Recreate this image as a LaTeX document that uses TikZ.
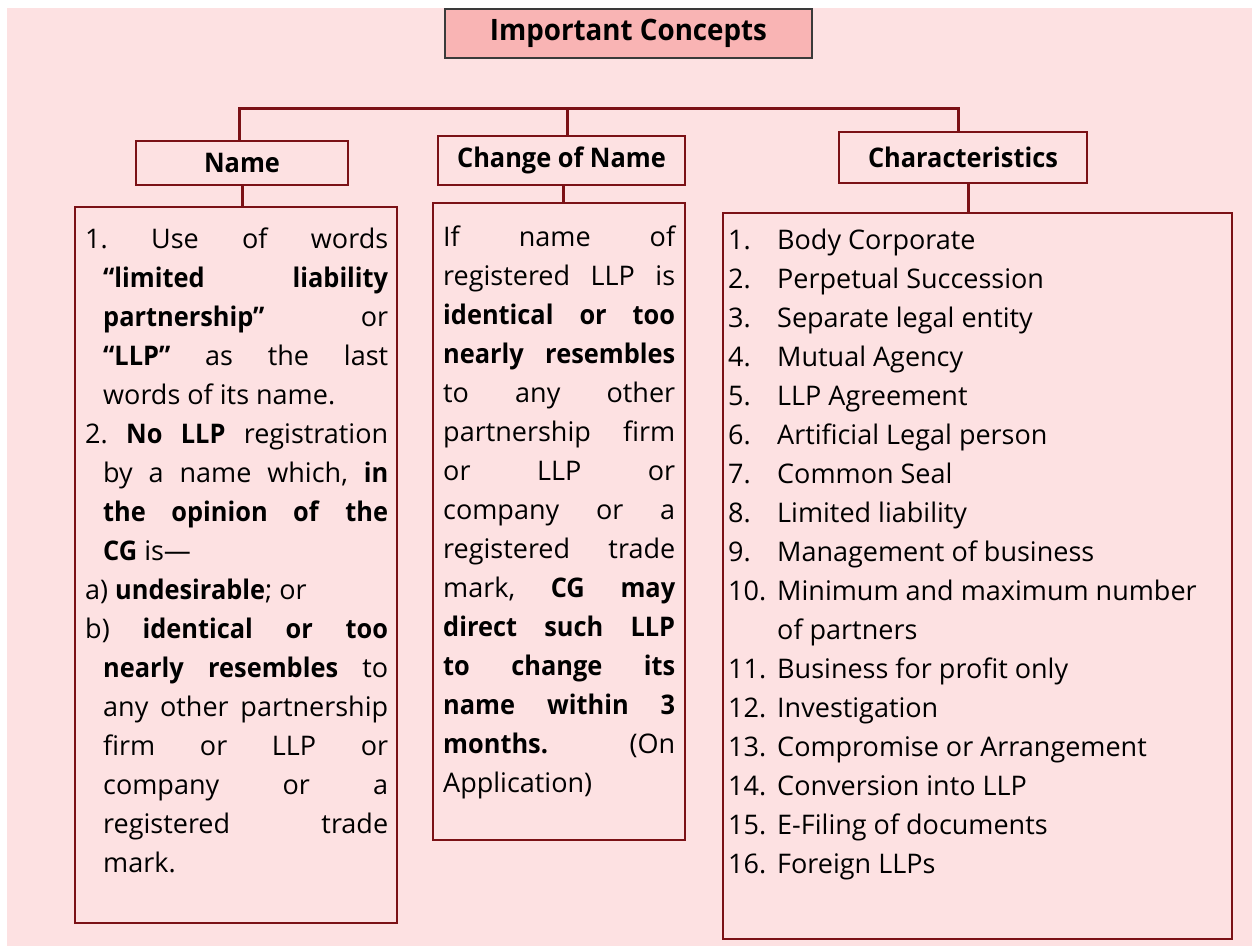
\documentclass[tikz,border=0pt]{standalone}
\usepackage{fontspec}
\setmainfont[BoldFeatures={FakeStretch=0.94}]{Open Sans}
\definecolor{bgpink}{HTML}{FDE1E2}
\definecolor{titlepink}{HTML}{F9B4B4}
\definecolor{linered}{HTML}{7B1116}
\definecolor{titleedge}{HTML}{3A3A3A}
\newcommand{\gp}{\hfill}
\newcommand{\FL}[1]{\hbox to \fullw{#1}}
\newcommand{\HL}[1]{\moveright\hang\hbox to \hangw{#1}}
\newlength{\fullw}\newlength{\hangw}\newlength{\hang}
\tikzset{
  conn/.style={draw=linered, line width=3pt},
  headbox/.style={draw=linered, line width=2.5pt, rectangle, inner sep=0pt,
    font=\fontsize{27}{30}\selectfont\bfseries},
  bodybox/.style={draw=linered, line width=2.5pt, rectangle, inner sep=0pt},
  txt/.style={anchor=base west, inner sep=0pt, font=\fontsize{27}{39}\selectfont},
}
\begin{document}
\begin{tikzpicture}[x=1pt, y=-1pt]
\useasboundingbox (0,0) rectangle (1252,947);
\fill[white] (0,0) rectangle (1252,947);
\fill[bgpink] (7,8) rectangle (1252,946);

% title
\node[headbox, draw=titleedge, line width=1.5pt, fill=titlepink, minimum width=367pt, minimum height=49pt,
  font=\fontsize{29.5}{34}\selectfont\bfseries]
  (title) at (628.5,33.5) {Important Concepts};

% headers
\node[headbox, minimum width=212pt, minimum height=44pt] (nameHead) at (242,163) {Name};
\node[headbox, minimum width=247pt, minimum height=49pt] (chgHead) at (561.5,160.5) {\raisebox{3pt}{Change of Name}};
\node[headbox, minimum width=248pt, minimum height=51pt] (charHead) at (963,157.5) {Characteristics};

% bodies
\node[bodybox, minimum width=322pt, minimum height=716pt] (nameBody) at (236,565) {};
\node[bodybox, minimum width=252pt, minimum height=637pt] (chgBody) at (559,521.5) {};
\node[bodybox, minimum width=509pt, minimum height=726pt] (charBody) at (977.5,576) {};

% bus
\coordinate (busL) at (239,109);
\coordinate (busM) at (567,109);
\coordinate (busR) at (958,109);
\draw[conn] (nameHead.north -| busL) -- (busL) -- (busR) -- (busR |- charHead.north);
\draw[conn] (busM) -- (busM |- chgHead.north);

% header to body
\coordinate (nx) at (242,0);
\coordinate (cx) at (563,0);
\coordinate (hx) at (968,0);
\draw[conn] (nameHead.south -| nx) -- (nameBody.north -| nx);
\draw[conn] (chgHead.south -| cx) -- (chgBody.north -| cx);
\draw[conn] (charHead.south -| hx) -- (charBody.north -| hx);

% name text
\node[txt] (nameText) at (85,248) {\setlength{\fullw}{303pt}\setlength{\hangw}{285pt}\setlength{\hang}{18pt}%
\vtop{\baselineskip=39pt
\FL{1.\gp Use\gp of\gp words}
\HL{\textbf{“limited}\gp\textbf{liability}}
\HL{\textbf{partnership”}\gp or}
\HL{\textbf{“LLP”}\gp as\gp the\gp last}
\HL{words of its name.\hfil}
\FL{2.\gp\textbf{No}\gp\textbf{LLP}\gp registration}
\HL{by\gp a\gp name\gp which,\gp\textbf{in}}
\HL{\textbf{the}\gp\textbf{opinion}\gp\textbf{of}\gp\textbf{the}}
\HL{\textbf{CG} is—\hfil}
\FL{a) \textbf{undesirable}; or\hfil}
\FL{b)\gp\textbf{identical}\gp\textbf{or}\gp\textbf{too}}
\HL{\textbf{nearly}\gp\textbf{resembles}\gp to}
\HL{any\gp other\gp partnership}
\HL{firm\gp or\gp LLP\gp or}
\HL{company\gp or\gp a}
\HL{registered\gp trade}
\HL{mark.\hfil}
}};

% change text
\node[txt] (chgText) at (443,246) {\setlength{\fullw}{232pt}%
\vtop{\baselineskip=39pt
\FL{If\gp name\gp of}
\FL{registered\gp LLP\gp is}
\FL{\textbf{identical}\gp\textbf{or}\gp\textbf{too}}
\FL{\textbf{nearly}\gp\textbf{resembles}}
\FL{to\gp any\gp other}
\FL{partnership\gp firm}
\FL{or\gp LLP\gp or}
\FL{company\gp or\gp a}
\FL{registered\gp trade}
\FL{mark,\gp\textbf{CG}\gp\textbf{may}}
\FL{\textbf{direct}\gp\textbf{such}\gp\textbf{LLP}}
\FL{\textbf{to}\gp\textbf{change}\gp\textbf{its}}
\FL{\textbf{name}\gp\textbf{within}\gp\textbf{3}}
\FL{\textbf{months.}\gp (On}
\FL{Application)\hfil}
}};

% characteristics text
\newcommand{\itm}[2]{\hbox{\hbox to 49pt{#1\hfil}#2}}
\node[txt] (charText) at (728,249) {%
\vtop{\baselineskip=39pt
\itm{1.}{Body Corporate}
\itm{2.}{Perpetual Succession}
\itm{3.}{Separate legal entity}
\itm{4.}{Mutual Agency}
\itm{5.}{LLP Agreement}
\itm{6.}{Artificial Legal person}
\itm{7.}{Common Seal}
\itm{8.}{Limited liability}
\itm{9.}{Management of business}
\itm{10.}{Minimum and maximum number}
\itm{}{of partners}
\itm{11.}{Business for profit only}
\itm{12.}{Investigation}
\itm{13.}{Compromise or Arrangement}
\itm{14.}{Conversion into LLP}
\itm{15.}{E-Filing of documents}
\itm{16.}{Foreign LLPs}
}};
\end{tikzpicture}
\end{document}
